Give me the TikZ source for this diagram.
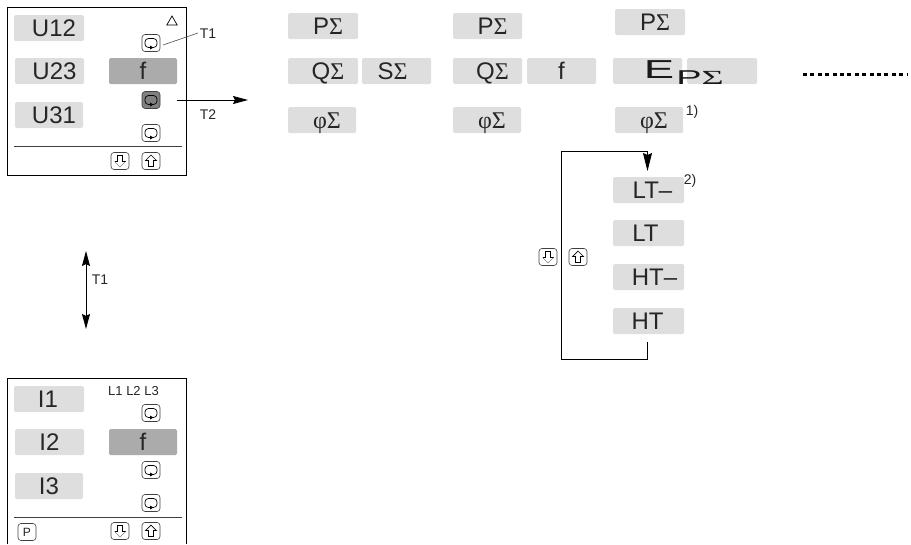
\documentclass[tikz,border=0pt]{standalone}
\usepackage{fontspec}
\setmainfont{Liberation Sans}
\newfontfamily\symfont{Liberation Serif}
\usetikzlibrary{shapes.geometric, arrows.meta}
\newcommand{\sg}{{\symfont Σ}}
\newcommand{\ph}{{\symfont φ}}
\tikzset{
  lcd/.style={fill=black!13, rounded corners=1.5pt, minimum height=26pt, inner sep=0pt,
    text=black!85, text height=18pt, text depth=2pt, font=\fontsize{24}{28}\selectfont},
  key/.style={draw=black!75, line width=.6pt, rounded corners=3pt, minimum width=18pt, minimum height=17pt, inner sep=0pt},
  loopkey/.style={key, path picture={
    \draw[black, line width=.7pt, shift={(path picture bounding box.center)}, rounded corners=3.5pt]
      (-1,4.5) -- (-6,4.5) -- (-6,-4.5) -- (6,-4.5) -- (6,4.5) -- (1,4.5);
    \fill[black, sharp corners, shift={(path picture bounding box.center)}] (2.5,4.5) -- (-1,2.5) -- (-1,6.5) -- cycle;}},
  upkey/.style={key, path picture={
    \draw[black, sharp corners, line width=.7pt, shift={(path picture bounding box.center)}]
      (0,-6) -- (-5.5,-.5) -- (-2.5,-.5) -- (-2.5,5.5) -- (2.5,5.5) -- (2.5,-.5) -- (5.5,-.5) -- cycle;}},
  downkey/.style={key, path picture={
    \draw[black, sharp corners, line width=.7pt, shift={(path picture bounding box.center)}]
      (-5.5,.5) -- (-2.5,.5) -- (-2.5,-5.5) -- (2.5,-5.5) -- (2.5,.5) -- (5.5,.5);
    \draw[black!50, sharp corners, line width=.6pt, shift={(path picture bounding box.center)}]
      (-5.5,.5) -- (0,6) -- (5.5,.5);}},
  small/.style={inner sep=0pt, text=black!85, font=\fontsize{14}{16}\selectfont},
  tiny/.style={inner sep=0pt, text=black!85, font=\fontsize{13}{15}\selectfont},
  flow/.style={black, line width=.8pt, -{Stealth[length=15pt,width=8pt,inset=2pt]}}
}
\begin{document}
\begin{tikzpicture}[x=1pt,y=-1pt]
  \useasboundingbox (0,0) rectangle (911,544);

  % upper panel
  \draw[line width=.9pt] (7.5,7.5) rectangle (186,175);
  \draw[line width=.6pt, black!75] (14,146) -- (182,146);
  % lower panel, cut off at the bottom
  \draw[line width=.9pt] (7.5,544) -- (7.5,378) -- (186,378) -- (186,544);
  \draw[line width=.6pt, black!75] (14,517) -- (182,517);

  % display fields: name/left/right/top/text shift/text
  \foreach \n/\l/\r/\t/\s/\txt in {
      u12/14/84/15/10/U12, u23/15/84/58/10/U23, u31/15/83/102/10/U31,
      i1/14/84/386/-2/I1, i2/15/84/429/0/I2, i3/15/83/473/0/I3,
      pa/288/358/13/10/P\sg, qa/288/358/58/10/Q\sg, sa/362/431/58/-8/S\sg, fia/288/356/107/10/\ph\sg,
      pb/453/522/13/10/P\sg, qb/453/522/58/10/Q\sg, fb/527/596/58/0/f, fib/453/521/107/10/\ph\sg,
      pc/615/685/9/10/P\sg, ea/613/682/58/0/{}, eb/687/757/58/0/{}, fic/615/683/107/10/\ph\sg,
      lta/613/684/177/8/LT--, ltb/613/684/220/-6/LT, hta/613/684/264/12/HT--, htb/613/684/308/-2/HT}
    \node[lcd, minimum width=\r pt-\l pt, execute at begin node={\hspace*{\s pt}}] (\n) at ({(\l+\r)/2},\t+13) {\txt};
  \node[lcd, fill=black!33, minimum width=68pt] (fu) at (143,71) {f};
  \node[lcd, fill=black!33, minimum width=68pt] (fi) at (143,442) {f};

  % stretched energy label
  \node[inner sep=0pt, text=black!90, xscale=1.75, font=\fontsize{26}{28}\selectfont] (elabel) at (659,70) {E};
  \node[inner sep=0pt, text=black!90, xscale=1.9, font=\fontsize{20}{22}\selectfont] (esub) at (700,78) {P\sg};

  % keys
  \foreach \n/\x/\y in {k1/151/43, k3/151/133, k4/151/413, k5/151/470, k6/151/503}
    \node[loopkey] (\n) at (\x,\y) {};
  \node[loopkey, fill=black!50] (k2) at (151,100) {};
  \foreach \n/\x/\y in {d1/120/161, d2/120/531, d3/548/257}
    \node[downkey] (\n) at (\x,\y) {};
  \foreach \n/\x/\y in {up1/151/161, up2/151/531, up3/578/257}
    \node[upkey] (\n) at (\x,\y) {};
  \node[key, small, font=\fontsize{12}{14}\selectfont] (pkey) at (27,532) {P};

  \node[draw, line width=.7pt, regular polygon, regular polygon sides=3, minimum size=12pt, inner sep=0pt] (tri) at (172,22) {};

  % small labels
  \node[small] (t1a) at (208,34) {T1};
  \node[small] (t2a) at (208,115) {T2};
  \node[small] (t1b) at (100,280) {T1};
  \node[tiny] (phases) at (133.5,391) {L1 L2 L3};
  \node[small] (note1) at (692,112) {1)};
  \node[small] (note2) at (690,181) {2)};

  % connectors
  \coordinate (t1end) at (163,45);
  \coordinate (t1start) at (198,33);
  \draw[black!70, line width=.6pt] (t1start) -- (t1end);
  \coordinate (t2start) at (177,100);
  \coordinate (t2end) at (248,100);
  \draw[flow] (t2start) -- (t2end);
  \coordinate (updown1) at (86,251);
  \coordinate (updown2) at (86,329);
  \draw[flow, {Stealth[length=15pt,width=8pt,inset=2pt]}-{Stealth[length=15pt,width=8pt,inset=2pt]}] (updown1) -- (updown2);
  \coordinate (loopstart) at (647.5,342);
  \coordinate (loopend) at (647.5,171);
  \draw[black, line width=.8pt, -{Stealth[length=18pt,width=9pt,inset=2pt]}] (loopstart) -- (647.5,359) -- (561,359) -- (561,151) -- (647.5,151) -- (loopend);
  \coordinate (dots1) at (803,74.5);
  \coordinate (dots2) at (907,74.5);
  \draw[line width=3.5pt, dash pattern=on 4pt off 3.4pt] (dots1) -- (dots2);

\end{tikzpicture}
\end{document}
